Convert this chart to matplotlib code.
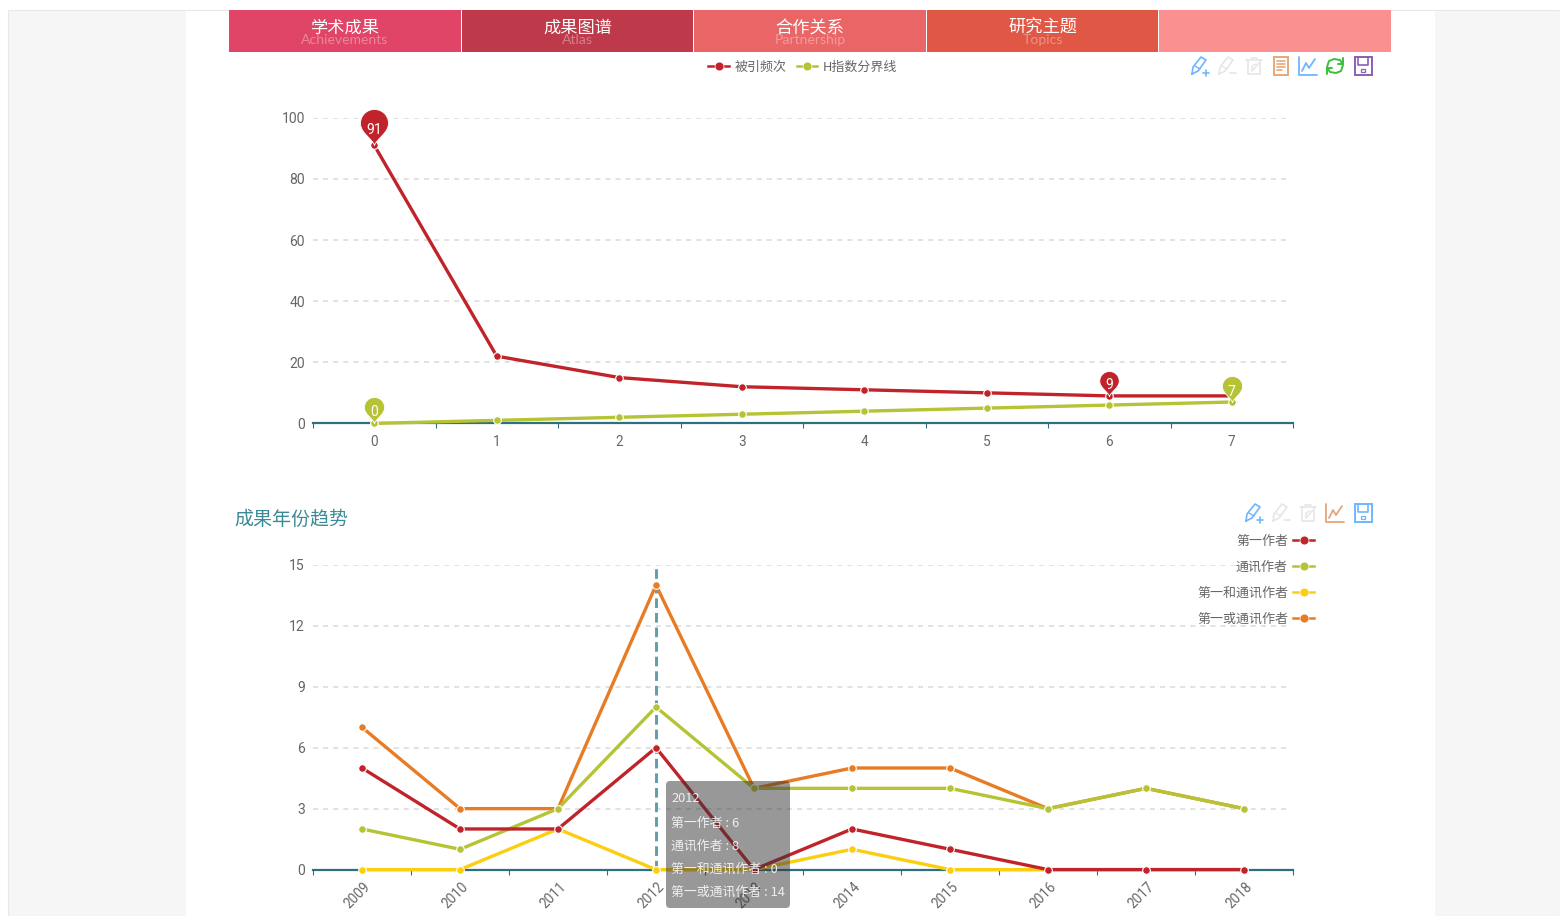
import matplotlib
matplotlib.use("Agg")
import matplotlib.pyplot as plt
from matplotlib.lines import Line2D
from matplotlib.patches import FancyBboxPatch, Rectangle
from matplotlib.path import Path
from matplotlib.transforms import ScaledTranslation

plt.rcParams['font.family'] = ['Noto Sans CJK SC', 'DejaVu Sans']

W, H = 1560, 916

# top chart
h_x = [0, 1, 2, 3, 4, 5, 6, 7]
cited = [91, 22, 15, 12, 11, 10, 9, 9]
h_line = [0, 1, 2, 3, 4, 5, 6, 7]

# bottom chart
years = ['2009', '2010', '2011', '2012', '2013', '2014', '2015', '2016', '2017', '2018']
first_author = [5, 2, 2, 6, 0, 2, 1, 0, 0, 0]
corresponding = [2, 1, 3, 8, 4, 4, 4, 3, 4, 3]
first_and_corr = [0, 0, 2, 0, 0, 1, 0, 0, 0, 0]
first_or_corr = [7, 3, 3, 14, 4, 5, 5, 3, 4, 3]

tabs = ['学术成果', '成果图谱', '合作关系', '研究主题', '']
tabs_en = ['Achievements', 'Atlas', 'Partnership', 'Topics', '']
tab_colors = ['#E04466', '#BE3A4A', '#EA6565', '#E05845', '#FB9090']

tooltip_lines = ['2012', '第一作者 : 6', '通讯作者 : 8', '第一和通讯作者 : 0', '第一或通讯作者 : 14']

RED = '#C1232B'
GREEN = '#B5C334'
YELLOW = '#FCCE10'
ORANGE = '#E87C25'
AXIS = '#2F6F7E'
GREY = '#666666'
NUM_FONT = ['Roboto', 'DejaVu Sans']


def px(pts):
    return pts * 0.72


fig = plt.figure(figsize=(W / 100, H / 100), dpi=100, facecolor='white')

# page background and header tabs, pixel coordinates
bg = fig.add_axes([0, 0, 1, 1], zorder=-1)
bg.set_xlim(0, W)
bg.set_ylim(H, 0)
bg.axis('off')
bg.add_patch(Rectangle((8, 10), W - 8, H - 10, fc='#F6F6F6', ec='#E8E8E8', lw=0.8))
bg.add_patch(Rectangle((186, 11), 1249, H - 11, fc='white', ec='none'))
tab_x = [229, 462, 694, 927, 1159]
tab_w = [232, 231, 232, 231, 232]
for i in range(len(tabs)):
    bg.add_patch(Rectangle((tab_x[i], 10), tab_w[i], 42, fc=tab_colors[i], ec='none'))
    cx = tab_x[i] + tab_w[i] / 2
    bg.text(cx, 40, tabs_en[i], color='white', alpha=0.35, fontsize=px(14), ha='center', va='center',
            family=['Lato', 'DejaVu Sans'])
    bg.text(cx, 28, tabs[i], color='white', fontsize=px(17.2), ha='center', va='center')
bg.text(234, 519.5, '成果年份趋势', color='#3D8A96', fontsize=px(19), ha='left', va='center')


def setup_axes(ax, n, yticks, labels):
    ax.set_xlim(-0.5, n - 0.5)
    ax.set_ylim(yticks[0], yticks[-1])
    ax.set_yticks(yticks)
    ax.set_xticks(range(n))
    ax.set_xticklabels(labels, family=NUM_FONT)
    ax.set_yticklabels(yticks, family=NUM_FONT)
    ax.set_xticks([i - 0.5 for i in range(n + 1)], minor=True)
    for s in ['top', 'left', 'right']:
        ax.spines[s].set_visible(False)
    ax.spines['bottom'].set_color(AXIS)
    ax.spines['bottom'].set_linewidth(1.6)
    ax.spines['bottom'].set_zorder(2.5)
    ax.tick_params(axis='x', which='major', length=0, pad=px(12), labelsize=px(13.5), labelcolor=GREY)
    ax.tick_params(axis='x', which='minor', length=px(5), width=0.8, color=AXIS)
    ax.tick_params(axis='y', length=0, pad=px(8), labelsize=px(14), labelcolor=GREY)
    ax.patch.set_alpha(0)
    for y in yticks[1:]:
        ax.axhline(y, xmin=0, xmax=975 / 980, color='#DADADA', lw=1.1, ls=(0, (3.3, 3.3)), zorder=1)


def draw_line(ax, x, y, color, ms=5.5):
    line, = ax.plot(x, y, color=color, lw=2.4, marker='o', ms=ms, mfc=color, mec='white', mew=0.8,
                    clip_on=False, zorder=3)
    return line


# teardrop pin, tip at the origin
pin = Path([(0, 0), (-0.05, 0.18), (-0.39, 0.35), (-0.39, 0.61), (-0.39, 0.83), (-0.22, 1.0), (0, 1.0),
            (0.22, 1.0), (0.39, 0.83), (0.39, 0.61), (0.39, 0.35), (0.05, 0.18), (0, 0), (0, 0)],
           [Path.MOVETO, Path.CURVE4, Path.CURVE4, Path.CURVE4, Path.CURVE4, Path.CURVE4, Path.CURVE4,
            Path.CURVE4, Path.CURVE4, Path.CURVE4, Path.CURVE4, Path.CURVE4, Path.CURVE4, Path.CLOSEPOLY])


def draw_pin(ax, x, y, color, height, text_up):
    ax.plot([x], [y], marker=pin, ms=px(height * 2), mfc=color, mec='white', mew=0.6, clip_on=False,
            zorder=4, ls='none')
    ax.annotate(str(y), (x, y), xytext=(0, px(text_up)), textcoords='offset points', color='white',
                fontsize=px(14), ha='center', va='center', zorder=5, family=NUM_FONT)


# top chart
ax1 = fig.add_axes([313 / W, 1 - 423.4 / H, 980 / W, 305.6 / H])
setup_axes(ax1, 8, [0, 20, 40, 60, 80, 100], h_x)
l_cited = draw_line(ax1, h_x, cited, RED)
l_h = draw_line(ax1, h_x, h_line, GREEN)
draw_pin(ax1, 0, 91, RED, 36, 15.5)
draw_pin(ax1, 6, 9, RED, 25, 10.5)
draw_pin(ax1, 0, 0, GREEN, 26, 11.5)
draw_pin(ax1, 7, 7, GREEN, 26, 10.5)

# bottom chart
ax2 = fig.add_axes([313 / W, 1 - 869.6 / H, 980 / W, 304.8 / H])
setup_axes(ax2, 10, [0, 3, 6, 9, 12, 15], years)
ax2.tick_params(axis='x', which='major', pad=px(10))
shift = ScaledTranslation(1.5 / 100, 0, fig.dpi_scale_trans)
for lab in ax2.get_xticklabels():
    lab.set_rotation(45)
    lab.set_ha('right')
    lab.set_va('top')
    lab.set_rotation_mode('anchor')
    lab.set_transform(lab.get_transform() + shift)
ax2.axvline(3, color='#5F9EA8', lw=2.1, ls=(0, (3.3, 1.7)), zorder=2)
l_or = draw_line(ax2, range(10), first_or_corr, ORANGE)
l_and = draw_line(ax2, range(10), first_and_corr, YELLOW)
l_corr = draw_line(ax2, range(10), corresponding, GREEN)
l_first = draw_line(ax2, range(10), first_author, RED)


def legend_handle(color):
    return Line2D([], [], color=color, lw=1.8, marker='o', ms=6.4, mfc=color, mec='white', mew=0.5)


fig.legend([legend_handle(RED), legend_handle(GREEN)], ['被引频次', 'H指数分界线'],
           loc='center', bbox_to_anchor=(802.5 / W, 1 - 67 / H), ncol=2, frameon=False,
           fontsize=px(13), labelcolor=GREY, handlelength=1.6, handletextpad=0.4, columnspacing=0.8,
           borderpad=0, borderaxespad=0)
fig.legend([legend_handle(RED), legend_handle(GREEN), legend_handle(YELLOW), legend_handle(ORANGE)],
           ['第一作者', '通讯作者', '第一和通讯作者', '第一或通讯作者'],
           loc='upper right', bbox_to_anchor=(1314 / W, 1 - 534.5 / H), frameon=False,
           fontsize=px(13), labelcolor=GREY, markerfirst=False, alignment='right', handlelength=1.6,
           handletextpad=0.4, labelspacing=1.0, borderpad=0, borderaxespad=0)

# overlay: tooltip and toolbox icons, pixel coordinates
top = fig.add_axes([0, 0, 1, 1], zorder=10)
top.set_xlim(0, W)
top.set_ylim(H, 0)
top.axis('off')
top.patch.set_alpha(0)

top.add_patch(FancyBboxPatch((670, 785), 116, 119, boxstyle='round,pad=4,rounding_size=4',
                             fc=(0.2, 0.2, 0.2, 0.5), ec='none'))
tip_y = [799, 823, 846, 869, 892]
for t, y in zip(tooltip_lines, tip_y):
    top.text(671, y, t, color='white', alpha=0.85, fontsize=px(12.9), ha='left', va='center')


def stroke(cx, cy, pts, color, lw=1.0):
    top.plot([cx + p[0] for p in pts], [cy + p[1] for p in pts], color=color, lw=lw,
             solid_capstyle='round', solid_joinstyle='round')


def icon_pen(cx, cy, color, sign):
    stroke(cx, cy, [(-8, 8), (-7, 1), (1, -9), (6, -6), (-2, 5), (-8, 8)], color, 1.2)
    stroke(cx, cy, [(-5, 0), (0, 3)], color)
    stroke(cx, cy, [(3, 7), (9, 7)], color, 1.2)
    if sign == '+':
        stroke(cx, cy, [(6, 4), (6, 10)], color, 1.2)


def icon_trash(cx, cy, color):
    stroke(cx, cy, [(-8, -6), (8, -6)], color, 1.2)
    stroke(cx, cy, [(-3, -8), (3, -8)], color, 1.2)
    stroke(cx, cy, [(-6, -6), (-6, 8), (6, 8), (6, -6)], color, 1.2)
    stroke(cx, cy, [(-2, 5), (5, -3)], color)
    stroke(cx, cy, [(-2, 5), (-2, 0), (2, -2)], color)


def icon_doc(cx, cy, color):
    top.add_patch(Rectangle((cx - 7, cy - 9), 14, 18, fc='none', ec=color, lw=1.4))
    for dy, dx in [(-5, 4), (-2, 4), (1, 4), (4, 1)]:
        stroke(cx, cy, [(-4, dy), (dx, dy)], color, 1.2)


def icon_chart(cx, cy, color):
    stroke(cx, cy, [(-9, -9), (-9, 9), (9, 9)], color, 1.3)
    stroke(cx, cy, [(-6, 5), (-2, -3), (1, 2), (7, -7)], color, 1.3)


def icon_refresh(cx, cy, color):
    stroke(cx, cy, [(-8, 1), (-6, -5), (-1, -7), (5, -6), (7, -3)], color, 1.4)
    stroke(cx, cy, [(8, -8), (8, -2), (3, -2)], color, 1.4)
    stroke(cx, cy, [(8, -1), (6, 5), (1, 7), (-5, 6), (-7, 3)], color, 1.4)
    stroke(cx, cy, [(-8, 8), (-8, 2), (-3, 2)], color, 1.4)


def icon_save(cx, cy, color):
    top.add_patch(Rectangle((cx - 8.5, cy - 9), 17, 18, fc='none', ec=color, lw=1.4))
    stroke(cx, cy, [(-5, -9), (-5, -1), (5, -1), (5, -9)], color, 1.2)
    top.add_patch(Rectangle((cx - 2, cy + 3), 4, 3, fc='none', ec=color, lw=0.9))


BLUE = '#6FB5FF'
LIGHT = '#E6E6E6'
icon_pen(1200, 66, BLUE, '+')
icon_pen(1227, 66, LIGHT, '-')
icon_trash(1254, 66, LIGHT)
icon_doc(1281, 66, '#E8A878')
icon_chart(1308, 66, BLUE)
icon_refresh(1335, 66, '#3BBF3B')
icon_save(1363, 66, '#8B5FB5')

icon_pen(1254, 513, BLUE, '+')
icon_pen(1281, 513, LIGHT, '-')
icon_trash(1308, 513, LIGHT)
icon_chart(1335, 513, '#E5A57A')
icon_save(1363, 513, BLUE)

fig.savefig('out.png', dpi=100, facecolor='white')
